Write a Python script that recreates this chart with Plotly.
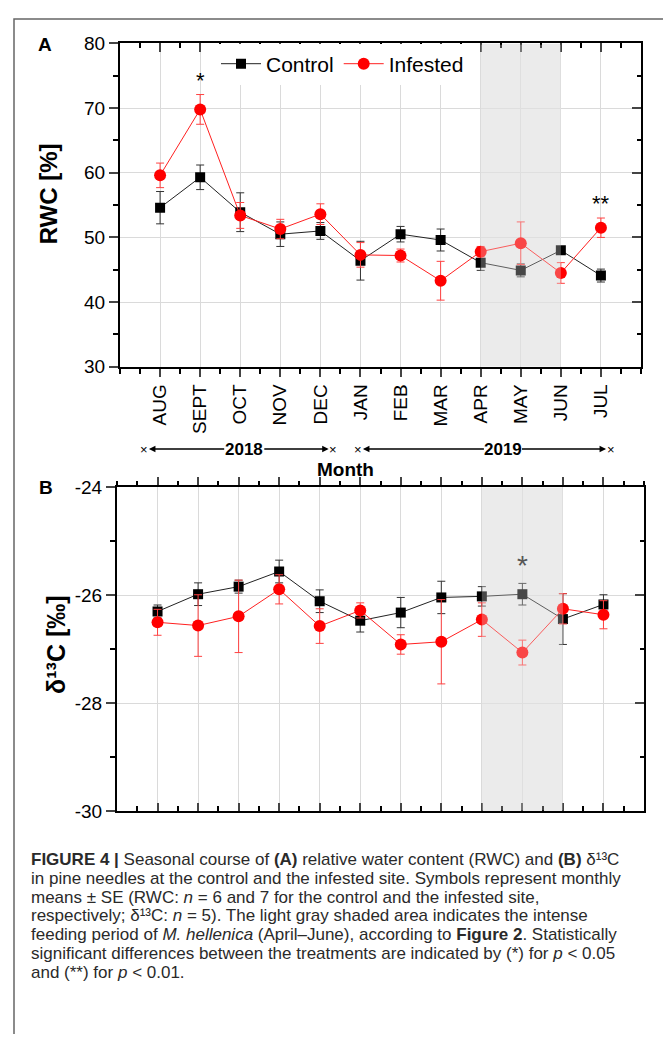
import plotly.graph_objects as go

# -----------------------
# Data
# -----------------------
months = ["AUG", "SEPT", "OCT", "NOV", "DEC", "JAN", "FEB", "MAR", "APR", "MAY", "JUN", "JUL"]
month_pos = list(range(len(months)))

rwc_control = [54.6, 59.3, 53.9, 50.5, 51.0, 46.4, 50.5, 49.6, 46.1, 44.9, 48.0, 44.1]
rwc_control_se = [2.5, 1.9, 3.0, 1.9, 1.3, 3.0, 1.2, 1.7, 1.2, 1.0, 0.5, 1.0]
rwc_infested = [59.6, 69.8, 53.4, 51.3, 53.6, 47.3, 47.2, 43.3, 47.8, 49.1, 44.5, 51.5]
rwc_infested_se = [1.9, 2.3, 2.0, 1.5, 1.6, 1.9, 1.0, 3.0, 0.8, 3.3, 1.6, 1.5]

d13c_control = [-26.30, -25.98, -25.84, -25.56, -26.11, -26.47, -26.32, -26.04, -26.02, -25.98, -26.44, -26.17]
d13c_control_se = [0.12, 0.21, 0.12, 0.21, 0.21, 0.21, 0.28, 0.30, 0.18, 0.20, 0.47, 0.18]
d13c_infested = [-26.50, -26.56, -26.39, -25.89, -26.57, -26.28, -26.91, -26.86, -26.45, -27.06, -26.25, -26.36]
d13c_infested_se = [0.24, 0.57, 0.67, 0.27, 0.32, 0.14, 0.18, 0.78, 0.31, 0.23, 0.28, 0.26]

# significance marks: (panel, month, text)
signif = [("A", "SEPT", "*"), ("A", "JUL", "**"), ("B", "MAY", "*")]

# feeding period shading (months)
feed_start, feed_end = "APR", "JUN"

caption_lines = [
    "<b>FIGURE 4 |</b> Seasonal course of <b>(A)</b> relative water content (RWC) and <b>(B)</b> δ¹³C",
    "in pine needles at the control and the infested site. Symbols represent monthly",
    "means ± SE (RWC: <i>n</i> = 6 and 7 for the control and the infested site,",
    "respectively; δ¹³C: <i>n</i> = 5). The light gray shaded area indicates the intense",
    "feeding period of <i>M. hellenica</i> (April–June), according to <b>Figure 2</b>. Statistically",
    "significant differences between the treatments are indicated by (*) for <i>p</i> &lt; 0.05",
    "and (**) for <i>p</i> &lt; 0.01.",
]

# -----------------------
# Page geometry (the page body has an 8px margin, so the figure is
# sized to fit inside the window and window pixels are mapped to paper)
# -----------------------
PAGE_MARGIN = 8
W, H = 671 - 2 * PAGE_MARGIN, 1043 - 2 * PAGE_MARGIN
FONT = "Arial, Liberation Sans, Helvetica, sans-serif"


def px(x):
    return (x - PAGE_MARGIN) / W


def py(y):
    return 1 - (y - PAGE_MARGIN) / H


dom_a_x = [px(120), px(641)]
dom_a_y = [py(364), py(34)]
dom_b_x = [px(117), px(644)]
dom_b_y = [py(818), py(487)]

GRID = "#dadada"

fig = go.Figure()

# -----------------------
# Traces
# -----------------------
def add_pair(xa, ya, ctrl, ctrl_se, inf, inf_se, legend):
    fig.add_trace(go.Scatter(
        x=month_pos, y=ctrl, name="Control", mode="lines+markers",
        xaxis=xa, yaxis=ya, showlegend=legend,
        line=dict(color="#222222", width=1),
        marker=dict(symbol="square", size=10, color="black"),
        error_y=dict(type="data", array=ctrl_se, color="#333333", thickness=1, width=4),
    ))
    fig.add_trace(go.Scatter(
        x=month_pos, y=inf, name="Infested", mode="lines+markers",
        xaxis=xa, yaxis=ya, showlegend=legend,
        line=dict(color="#ff2020", width=1),
        marker=dict(symbol="circle", size=12, color="#ff0000"),
        error_y=dict(type="data", array=inf_se, color="#ff4040", thickness=1, width=4),
    ))


add_pair("x", "y", rwc_control, rwc_control_se, rwc_infested, rwc_infested_se, True)
add_pair("x2", "y2", d13c_control, d13c_control_se, d13c_infested, d13c_infested_se, False)

# empty traces so the mirrored (inside-tick) axes get drawn
for xa, ya in [("x3", "y3"), ("x4", "y4")]:
    fig.add_trace(go.Scatter(x=[None], y=[None], xaxis=xa, yaxis=ya, mode="markers",
                             showlegend=False, hoverinfo="skip"))

# -----------------------
# Axes
# -----------------------
xrng = [-1, len(months)]
line = dict(showline=True, linewidth=2, linecolor="black", zeroline=False)
tickfont = dict(family=FONT, size=19, color="black")


def minor(pos, length, t0, dt):
    return dict(ticks=pos, ticklen=length, tickwidth=1.5, tickcolor="black",
                tickmode="linear", tick0=t0, dtick=dt, showgrid=False)


def month_axis(**kw):
    base = dict(range=xrng, tickmode="array", tickvals=month_pos, tickwidth=1.5, **line)
    base.update(kw)
    return base


fig.update_layout(
    xaxis=month_axis(domain=dom_a_x, anchor="y", ticktext=months, tickangle=-90,
                     ticks="outside", ticklen=8, tickfont=tickfont,
                     showgrid=True, gridcolor=GRID, gridwidth=1,
                     minor=minor("outside", 5, -1, 0.5)),
    xaxis3=month_axis(overlaying="x", anchor="y3", side="top", showticklabels=False,
                      ticks="inside", ticklen=9, showgrid=False,
                      minor=minor("inside", 5, -1, 0.5)),
    yaxis=dict(domain=dom_a_y, anchor="x", range=[30, 80], tickmode="linear", tick0=30, dtick=10,
               ticks="outside", ticklen=9, tickwidth=1.5, tickfont=tickfont,
               showgrid=True, gridcolor=GRID, gridwidth=1,
               minor=minor("outside", 5, 35, 10), **line),
    yaxis3=dict(overlaying="y", anchor="x3", side="right", range=[30, 80], tickmode="linear",
                tick0=30, dtick=10, showticklabels=False, ticks="inside", ticklen=9, tickwidth=1.5,
                showgrid=False, minor=minor("inside", 4, 35, 10), **line),
    xaxis2=month_axis(domain=dom_b_x, anchor="y2", side="top", showticklabels=False,
                      ticks="outside", ticklen=8, showgrid=True, gridcolor=GRID, gridwidth=1,
                      minor=minor("outside", 4, -1, 0.5)),
    xaxis4=month_axis(overlaying="x2", anchor="y4", side="bottom", showticklabels=False,
                      ticks="inside", ticklen=8, showgrid=False,
                      minor=minor("inside", 5, -1, 0.5)),
    yaxis2=dict(domain=dom_b_y, anchor="x2", range=[-30, -24], tickmode="array",
                tickvals=[-30, -28, -26, -24], ticktext=["-30", "-28", "-26", "-24"],
                ticks="outside", ticklen=9, tickwidth=1.5, tickfont=tickfont,
                showgrid=True, gridcolor=GRID, gridwidth=1,
                minor=minor("outside", 5, -29, 2), **line),
    yaxis4=dict(overlaying="y2", anchor="x4", side="right", range=[-30, -24], tickmode="array",
                tickvals=[-30, -28, -26, -24], showticklabels=False, ticks="inside", ticklen=9,
                tickwidth=1.5, showgrid=False, minor=minor("inside", 4, -29, 2), **line),
)

# -----------------------
# Shading of feeding period
# -----------------------
s0, s1 = months.index(feed_start), months.index(feed_end)
for xr, yr, lo, hi in [("x", "y", 30, 80), ("x2", "y2", -30, -24)]:
    fig.add_shape(type="rect", xref=xr, yref=yr, x0=s0, x1=s1, y0=lo, y1=hi,
                  fillcolor="#ebebeb", line=dict(width=0), layer="below")
    pad = (hi - lo) * 0.004
    fig.add_shape(type="rect", xref=xr, yref=yr, x0=s0, x1=s1, y0=lo + pad, y1=hi - pad,
                  fillcolor="rgba(235,235,235,0.3)", line=dict(width=0), layer="above")

# figure frame (top and left edges)
fig.add_shape(type="path", xref="paper", yref="paper",
              path=f"M {px(14)} -0.01 L {px(14)} {py(9)} L 1.01 {py(9)}",
              line=dict(color="#666666", width=1.5))

# -----------------------
# Annotations
# -----------------------
ann = []
for panel, m, txt in signif:
    i = months.index(m)
    if panel == "A":
        hi = max(rwc_control[i] + rwc_control_se[i], rwc_infested[i] + rwc_infested_se[i])
        ann.append(dict(x=i, y=hi, xref="x", yref="y", text=txt, showarrow=False,
                        xanchor="center", yanchor="bottom",
                        font=dict(family=FONT, size=22, color="black")))
    else:
        hi = max(d13c_control[i] + d13c_control_se[i], d13c_infested[i] + d13c_infested_se[i])
        ann.append(dict(x=i, y=hi, xref="x2", yref="y2", text=txt, showarrow=False,
                        xanchor="center", yanchor="bottom",
                        font=dict(family=FONT, size=28, color="#555555")))


def label(x, y, text, size, angle=0):
    return dict(x=px(x), y=py(y), xref="paper", yref="paper", text=text, textangle=angle,
                showarrow=False, xanchor="center", yanchor="middle",
                font=dict(family=FONT, size=size, color="black"))


# panel letters and axis titles
ann += [
    label(45, 35, "<b>A</b>", 19),
    label(46, 487, "<b>B</b>", 19),
    label(48, 188, "<b>RWC [%]</b>", 24, -90),
    label(56, 648, "<b>δ¹³C [‰]</b>", 25, -90),
    label(345, 469, "<b>Month</b>", 19),
]

# year spans below the month labels: (label, left end, text left, text right, right end) in month units
years = [("2018", -0.39, 1.6, 2.6, 4.32), ("2019", 4.95, 8.08, 9.03, 11.24)]
yr_y = py(448)
for lab, a, tl, tr, b in years:
    ann.append(dict(x=(tl + tr) / 2, y=yr_y, xref="x", yref="paper", text=f"<b>{lab}</b>",
                    showarrow=False, xanchor="center", yanchor="middle",
                    font=dict(family=FONT, size=17, color="black")))
    for end, edge in [(a, tl), (b, tr)]:
        ann.append(dict(x=edge, y=yr_y, xref="x", yref="paper", ax=end, ay=0, axref="x",
                        text="×", font=dict(family=FONT, size=13, color="black"), borderpad=0,
                        showarrow=True, arrowside="start", startarrowhead=2, startarrowsize=1,
                        arrowwidth=1.3, arrowcolor="black", xanchor="center", yanchor="middle"))

# caption
for k, t in enumerate(caption_lines):
    ann.append(dict(x=px(30), y=py(867 + 19.2 * k), xref="paper", yref="paper", text=t,
                    showarrow=False, xanchor="left", yanchor="middle", align="left", borderpad=0,
                    font=dict(family=FONT, size=17, color="#2a2a2a")))

fig.update_layout(
    width=W, height=H, margin=dict(l=0, r=0, t=0, b=0),
    paper_bgcolor="white", plot_bgcolor="white",
    annotations=ann,
    legend=dict(orientation="h", x=px(216), xanchor="left", y=py(55), yanchor="middle",
                font=dict(family=FONT, size=21, color="black"), bgcolor="white",
                itemwidth=40, tracegroupgap=0),
    font=dict(family=FONT),
)

fig.write_html("out.html")
